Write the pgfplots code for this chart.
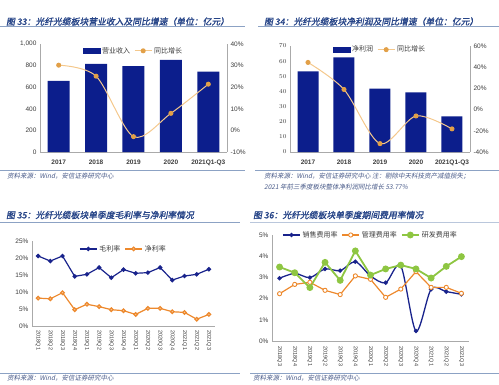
\documentclass[border=0pt]{standalone}
\usepackage{pgfplots}
\pgfplotsset{compat=1.18}
\usepackage{fontspec}
\setmainfont{Liberation Sans}
\newfontfamily\cjk{Noto Sans CJK SC}
\newfontfamily\cjkit[FakeSlant=0.2]{Noto Sans CJK SC}
\newfontfamily\cjktitle[FakeSlant=0.18, FakeBold=1.6]{Noto Sans CJK SC}
\definecolor{navy}{RGB}{12,30,140}
\definecolor{titleblue}{RGB}{38,68,135}
\definecolor{rulec}{RGB}{140,162,196}
\definecolor{srcblue}{RGB}{70,88,135}
\definecolor{axgray}{RGB}{170,170,170}
\definecolor{tickgray}{RGB}{60,60,60}
\definecolor{lorange}{RGB}{244,200,140}
\definecolor{morange}{RGB}{226,160,72}
\definecolor{dblue}{RGB}{25,35,140}
\definecolor{orange2}{RGB}{237,137,45}
\definecolor{green2}{RGB}{142,198,66}
\pgfplotsset{
  base/.style={scale only axis, anchor=south west,
    axis line style={axgray, line width=0.6pt},
    tick label style={font={\fontsize{6.5}{7}\selectfont}, text=tickgray},
    ytick style={draw=none},
    legend style={draw=none, fill=none, font={\cjk\fontsize{7}{8}\selectfont}, text=tickgray},
  },
}
\begin{document}
\begin{tikzpicture}[x=1pt,y=1pt]
\useasboundingbox (0,0) rectangle (499,384);
\clip (0,0) rectangle (499,384);
% ---- titles and rules ----
\node[anchor=west, inner sep=0, text=titleblue, font={\cjktitle\fontsize{8.8}{10}\selectfont}] at (6,362.5) {图 33：光纤光缆板块营业收入及同比增速（单位：亿元）};
\draw[rulec, line width=1.3pt] (0,357.5) -- (245,357.5);
\node[anchor=west, inner sep=0, text=titleblue, font={\cjktitle\fontsize{8.8}{10}\selectfont}] at (264,362.5) {图 34：光纤光缆板块净利润及同比增速（单位：亿元）};
\draw[rulec, line width=1.3pt] (258,357.5) -- (499,357.5);
\node[anchor=west, inner sep=0, text=titleblue, font={\cjktitle\fontsize{8.8}{10}\selectfont}] at (6,169) {图 35：光纤光缆板块单季度毛利率与净利率情况};
\draw[rulec, line width=1.3pt] (0,161.5) -- (240,161.5);
\node[anchor=west, inner sep=0, text=titleblue, font={\cjktitle\fontsize{8.8}{10}\selectfont}] at (253,169) {图 36：光纤光缆板块单季度期间费用率情况};
\draw[rulec!60, line width=1pt] (250,161.5) -- (499,161.5);
% ---- sources ----
\draw[rulec, line width=0.8pt] (0,214) -- (245,214);
\node[anchor=west, inner sep=0, text=srcblue, font={\cjkit\fontsize{6.5}{7}\selectfont}] at (7,208) {资料来源：Wind，安信证券研究中心};
\draw[rulec, line width=0.8pt] (255,214) -- (499,214);
\node[anchor=west, inner sep=0, text=srcblue, font={\cjkit\fontsize{6.5}{7}\selectfont}] at (264,208) {资料来源：Wind，安信证券研究中心 注：剔除中天科技资产减值损失；};
\node[anchor=west, inner sep=0, text=srcblue, font={\cjkit\fontsize{6.5}{7}\selectfont}] at (264,197) {2021 年前三季度板块整体净利润同比增长 53.77\%};
\draw[rulec, line width=0.8pt] (0,11) -- (240,11);
\node[anchor=west, inner sep=0, text=srcblue, font={\cjkit\fontsize{6.5}{7}\selectfont}] at (7,5.5) {资料来源：Wind，安信证券研究中心};
\draw[rulec, line width=0.8pt] (250,11) -- (499,11);
\node[anchor=west, inner sep=0, text=srcblue, font={\cjkit\fontsize{6.5}{7}\selectfont}] at (253,5.5) {资料来源：Wind，安信证券研究中心};

% ---- Chart 33 ----
\begin{axis}[base, at={(40pt,232pt)}, width=187pt, height=108pt,
  xmin=-0.5, xmax=4.5, ymin=0, ymax=1000,
  axis y line*=left, axis x line*=bottom,
  xtick={0,...,4}, xticklabels={2017,2018,2019,2020,2021Q1-Q3},
  xticklabel style={font={\bfseries\fontsize{6.5}{7}\selectfont}, yshift=-4.5pt},
  x tick style={draw=none},
  ytick={0,200,...,1000}, yticklabels={0,200,400,600,800,{1,000}}]
\addplot[ybar, bar width=22pt, fill=navy, draw=none] coordinates {(0,658) (1,817) (2,795) (3,854) (4,745)};
\end{axis}
\begin{axis}[base, at={(40pt,232pt)}, width=187pt, height=108pt,
  xmin=-0.5, xmax=4.5, ymin=-10, ymax=40,
  axis y line*=right, axis x line=none,
  ytick={-10,0,...,40}, yticklabels={-10\%,0\%,10\%,20\%,30\%,40\%},
  legend style={at={(0.5,1.01)}, anchor=north, legend columns=2,
    /tikz/every even column/.append style={column sep=2pt}},
  legend cell align=left]
\addlegendimage{legend image code/.code={\fill[navy] (0pt,-2.5pt) rectangle (17pt,2.5pt);}}
\addlegendentry{营业收入\hspace{14pt}}
\addplot[smooth, lorange, line width=1pt, mark=*, mark size=2pt, mark options={fill=morange, draw=morange}] coordinates {(0,30.2) (1,25.1) (2,-2.9) (3,7.9) (4,21.4)};
\addlegendentry{同比增长}
\end{axis}

% ---- Chart 34 ----
\begin{axis}[base, at={(290pt,232pt)}, width=180pt, height=106pt,
  xmin=-0.5, xmax=4.5, ymin=0, ymax=70,
  axis y line*=left, axis x line*=bottom,
  xtick={0,...,4}, xticklabels={2017,2018,2019,2020,2021Q1-Q3},
  xticklabel style={font={\bfseries\fontsize{6.5}{7}\selectfont}, yshift=-4.5pt},
  x tick style={draw=none},
  ytick={0,10,...,70}]
\addplot[ybar, bar width=21pt, fill=navy, draw=none] coordinates {(0,53.2) (1,62.5) (2,41.9) (3,39.3) (4,23.6)};
\end{axis}
\begin{axis}[base, at={(290pt,232pt)}, width=180pt, height=106pt,
  xmin=-0.5, xmax=4.5, ymin=-40, ymax=60,
  axis y line*=right, axis x line=none,
  ytick={-40,-20,...,60}, yticklabels={-40\%,-20\%,0\%,20\%,40\%,60\%},
  legend style={at={(0.5,1.04)}, anchor=north, legend columns=2,
    /tikz/every even column/.append style={column sep=2pt}},
  legend cell align=left]
\addlegendimage{legend image code/.code={\fill[navy] (0pt,-2.5pt) rectangle (17pt,2.5pt);}}
\addlegendentry{净利润\hspace{14pt}}
\addplot[smooth, lorange, line width=1pt, mark=*, mark size=2pt, mark options={fill=morange, draw=morange}] coordinates {(0,44.5) (1,19.0) (2,-32.1) (3,-6.0) (4,-18.2)};
\addlegendentry{同比增长}
\end{axis}

% ---- Chart 35 ----
\begin{axis}[base, at={(32pt,58pt)}, width=183pt, height=85pt,
  xmin=-0.5, xmax=14.5, ymin=0, ymax=25,
  axis y line*=left, axis x line*=bottom,
  xtick={0,...,14},
  xticklabels={2018Q1,2018Q2,2018Q3,2018Q4,2019Q1,2019Q2,2019Q3,2019Q4,2020Q1,2020Q2,2020Q3,2020Q4,2021Q1,2021Q2,2021Q3},
  xticklabel style={rotate=-90, anchor=west, font={\fontsize{5.5}{6}\selectfont}, xshift=1pt},
  x tick style={draw=none},
  extra x ticks={-0.5,0.5,...,14.5}, extra x tick labels={},
  extra x tick style={tick style={draw=axgray}, major tick length=3pt, tick align=outside},
  ytick={0,5,...,25}, yticklabels={0\%,5\%,10\%,15\%,20\%,25\%},
  legend style={at={(0.5,1.0)}, anchor=north, legend columns=2,
    /tikz/every even column/.append style={column sep=2pt}},
  legend cell align=left]
\addplot[dblue, line width=1.2pt, mark=*, mark size=1.6pt] coordinates {(0,20.6) (1,19.1) (2,20.6) (3,14.6) (4,15.2) (5,17.2) (6,14.2) (7,16.6) (8,15.5) (9,15.7) (10,17.2) (11,13.5) (12,14.7) (13,15.2) (14,16.7)};
\addlegendentry{毛利率\hspace{8pt}}
\addplot[orange2, line width=1.2pt, mark=*, mark size=1.8pt, mark options={fill=orange2!45!white, draw=orange2}] coordinates {(0,8.2) (1,8.0) (2,9.8) (3,4.8) (4,6.4) (5,5.7) (6,4.8) (7,4.5) (8,3.4) (9,5.2) (10,5.2) (11,4.2) (12,4.0) (13,2.0) (14,3.4)};
\addlegendentry{净利率}
\end{axis}

% ---- Chart 36 ----
\begin{axis}[base, at={(272pt,43pt)}, width=197pt, height=106pt,
  xmin=-0.5, xmax=12.5, ymin=0, ymax=5,
  axis y line*=left, axis x line*=bottom,
  xtick={0,...,12},
  xticklabels={2018Q3,2018Q4,2019Q1,2019Q2,2019Q3,2019Q4,2020Q1,2020Q2,2020Q3,2020Q4,2021Q1,2021Q2,2021Q3},
  xticklabel style={rotate=-90, anchor=west, font={\fontsize{5.5}{6}\selectfont}, xshift=2pt},
  x tick style={draw=none},
  extra x ticks={-0.5,0.5,...,12.5}, extra x tick labels={},
  extra x tick style={tick style={draw=axgray}, major tick length=3pt, tick align=outside},
  ytick={0,...,5}, yticklabels={0\%,1\%,2\%,3\%,4\%,5\%},
  legend style={at={(0.5,1.0)}, anchor=center, legend columns=3,
    /tikz/every even column/.append style={column sep=2pt}},
  legend cell align=left]
\addplot[dblue, smooth, line width=1.3pt, mark=*, mark size=1.5pt] coordinates {(0,2.96) (1,3.19) (2,2.99) (3,3.40) (4,3.32) (5,3.74) (6,3.07) (7,2.75) (8,3.54) (9,0.47) (10,2.44) (11,2.33) (12,2.20)};
\addlegendentry{销售费用率\hspace{8pt}}
\addplot[orange2, line width=1.2pt, mark=*, mark size=2.1pt, mark options={fill=white, draw=orange2, line width=0.9pt}] coordinates {(0,2.23) (1,2.67) (2,2.77) (3,2.39) (4,2.19) (5,3.07) (6,2.91) (7,2.06) (8,2.45) (9,3.27) (10,2.53) (11,2.53) (12,2.25)};
\addlegendentry{管理费用率\hspace{8pt}}
\addplot[green2, line width=1.8pt, mark=*, mark size=2.5pt, mark options={fill=green2, draw=green2}] coordinates {(0,3.49) (1,3.22) (2,2.52) (3,3.71) (4,2.86) (5,4.25) (6,3.11) (7,3.40) (8,3.58) (9,3.40) (10,2.97) (11,3.52) (12,3.98)};
\addlegendentry{研发费用率}
\end{axis}
\end{tikzpicture}
\end{document}
